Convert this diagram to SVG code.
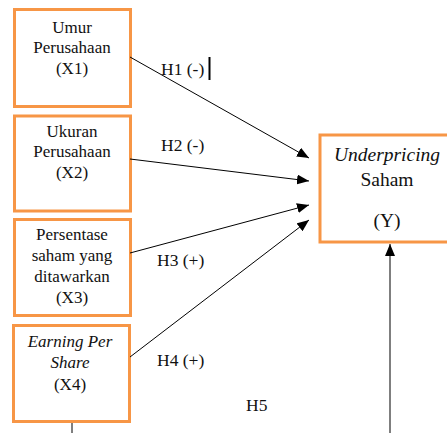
<svg xmlns="http://www.w3.org/2000/svg" width="447" height="433" viewBox="0 0 447 433">
<style>
.box{fill:#fff;stroke:#f79646;stroke-width:3}
text{font-family:'Liberation Serif','Times New Roman','DejaVu Serif',serif;fill:#111}
.t{font-size:17px;text-anchor:middle}
.y{font-size:19.5px;text-anchor:middle}
.i{font-style:italic}
.h{font-size:17.5px}
.c{stroke:#000;stroke-width:1;fill:none}
</style>
<defs>
<marker id="ah" markerUnits="userSpaceOnUse" markerWidth="12" markerHeight="10" refX="12" refY="5" orient="auto">
<path d="M0,0 L12,5 L0,10 z" fill="#000"/>
</marker>
</defs>
<rect width="447" height="433" fill="#fff"/>
<g id="x1"><rect class="box" x="14.5" y="9.5" width="116" height="97"/>
<text class="t" x="72" y="33">Umur</text><text class="t" x="72" y="53">Perusahaan</text><text class="t" x="72" y="74">(X1)</text></g>
<g id="x2"><rect class="box" x="14.5" y="116" width="116" height="95"/>
<text class="t" x="72" y="137">Ukuran</text><text class="t" x="72" y="157">Perusahaan</text><text class="t" x="72" y="178">(X2)</text></g>
<g id="x3"><rect class="box" x="14.5" y="219.5" width="116" height="96"/>
<text class="t" x="72" y="240">Persentase</text><text class="t" x="72" y="261">saham yang</text><text class="t" x="72" y="282">ditawarkan</text><text class="t" x="72" y="303">(X3)</text></g>
<g id="x4"><rect class="box" x="13.5" y="325.5" width="116" height="96"/>
<text class="t i" x="70" y="347">Earning Per</text><text class="t i" x="70" y="368">Share</text><text class="t" x="70" y="390">(X4)</text></g>
<g id="y"><rect class="box" x="320" y="135" width="140" height="107"/>
<text class="y i" x="387" y="161">Underpricing</text><text class="y" x="387" y="186">Saham</text><text class="y" x="387" y="227">(Y)</text></g>
<g id="connectors">
<line class="c" x1="130" y1="57" x2="309" y2="158" marker-end="url(#ah)"/>
<line class="c" x1="130" y1="159" x2="309" y2="181" marker-end="url(#ah)"/>
<line class="c" x1="130" y1="253" x2="309" y2="205" marker-end="url(#ah)"/>
<line class="c" x1="130" y1="357" x2="309" y2="220" marker-end="url(#ah)"/>
<line x1="390" y1="433" x2="390" y2="244" stroke="#7f7f7f" stroke-width="2" marker-end="url(#ah)"/>
<line class="c" x1="72" y1="423" x2="72" y2="433"/>
</g>
<g id="labels">
<text class="h" x="161" y="75">H1 (-)</text>
<line x1="209.5" y1="57" x2="209.5" y2="80" stroke="#000" stroke-width="2"/>
<text class="h" x="161" y="151">H2 (-)</text>
<text class="h" x="157" y="266">H3 (+)</text>
<text class="h" x="157" y="366">H4 (+)</text>
<text class="h" x="246" y="411">H5</text>
</g>
</svg>
